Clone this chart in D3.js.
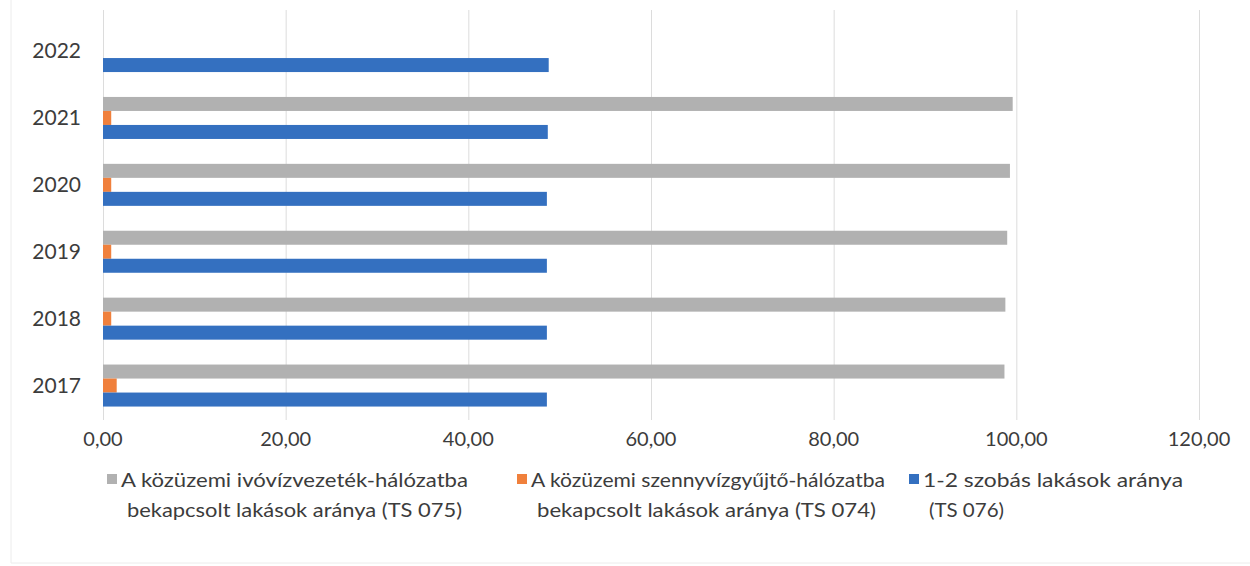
<!DOCTYPE html>
<html><head><meta charset="utf-8">
<script src="https://cdn.jsdelivr.net/npm/d3@7"></script>
<style>body{margin:0;background:#fff;} svg{display:block;}</style>
</head><body>
<svg id="c" width="1250" height="566"></svg>
<script>
const years = ["2022","2021","2020","2019","2018","2017"];
const seriesNames = [
  ["A közüzemi ivóvízvezeték-hálózatba","bekapcsolt lakások aránya (TS 075)"],
  ["A közüzemi szennyvízgyűjtő-hálózatba","bekapcsolt lakások aránya (TS 074)"],
  ["1-2 szobás lakások aránya","(TS 076)"]
];
const ivoviz = [null, 99.6, 99.3, 99.0, 98.8, 98.7];
const szennyviz = [null, 0.9, 0.9, 0.9, 0.9, 1.5];
const szobas = [48.8, 48.7, 48.6, 48.6, 48.6, 48.6];
const xTicks = [0,20,40,60,80,100,120];
const colors = ["#b1b1b1","#f0803c","#3470c0"];

const series = [ivoviz, szennyviz, szobas];
const svg = d3.select("#c");
const font = "Lato, 'Open Sans', sans-serif";
const textColor = "#3c3c3c";

const x = d3.scaleLinear().domain([0,120]).range([103,1199]);
const y = d3.scaleBand().domain(years).range([17.6,419]).paddingInner(0.372).paddingOuter(0.186);
const ys = d3.scaleBand().domain([0,1,2]).range([0,y.bandwidth()]);

// frame
svg.append("path").attr("d","M11,0 L11,563 L1250,563").attr("fill","none").attr("stroke","#ececec").attr("stroke-width",1);

// gridlines
svg.append("g").selectAll("line").data(xTicks).join("line")
  .attr("x1",d=>x(d)+0.5).attr("x2",d=>x(d)+0.5).attr("y1",10).attr("y2",420)
  .attr("stroke","#dcdcdc").attr("stroke-width",1);

// bars
series.forEach((vals,si)=>{
  svg.append("g").selectAll("rect").data(years.map((yr,i)=>({yr,v:vals[i]})).filter(d=>d.v!=null)).join("rect")
    .attr("x",x(0)).attr("y",d=>y(d.yr)+ys(si))
    .attr("width",d=>x(d.v)-x(0)).attr("height",ys.bandwidth())
    .attr("fill",colors[si]);
});

// y labels
svg.append("g").selectAll("text").data(years).join("text")
  .attr("x",81).attr("y",d=>y(d)+y.bandwidth()/2 - 1.5)
  .attr("text-anchor","end").attr("dominant-baseline","central")
  .attr("font-family",font).attr("font-size",21).attr("fill",textColor).text(d=>d);

// x tick labels
const fmt = d=>d3.format(".2f")(d).replace(".",",");
svg.append("g").selectAll("text").data(xTicks).join("text")
  .attr("x",d=>x(d)).attr("y",438).attr("text-anchor","middle").attr("dominant-baseline","central")
  .attr("font-family",font).attr("font-size",20).attr("fill",textColor).text(fmt);

// legend
const legX = [107,517,909];
const legW = [[347,335],[354,339],[260,75]];
seriesNames.forEach((lines,i)=>{
  const g = svg.append("g");
  g.append("rect").attr("x",legX[i]).attr("y",474).attr("width",10).attr("height",10).attr("fill",colors[i]);
  lines.forEach((t,j)=>{
    g.append("text").attr("x",legX[i]+14+(j?6:0)).attr("y",479+j*30)
      .attr("dominant-baseline","central").attr("font-family",font).attr("font-size",20)
      .attr("fill",textColor).attr("textLength",legW[i][j]).attr("lengthAdjust","spacingAndGlyphs").text(t);
  });
});
</script>
</body></html>
